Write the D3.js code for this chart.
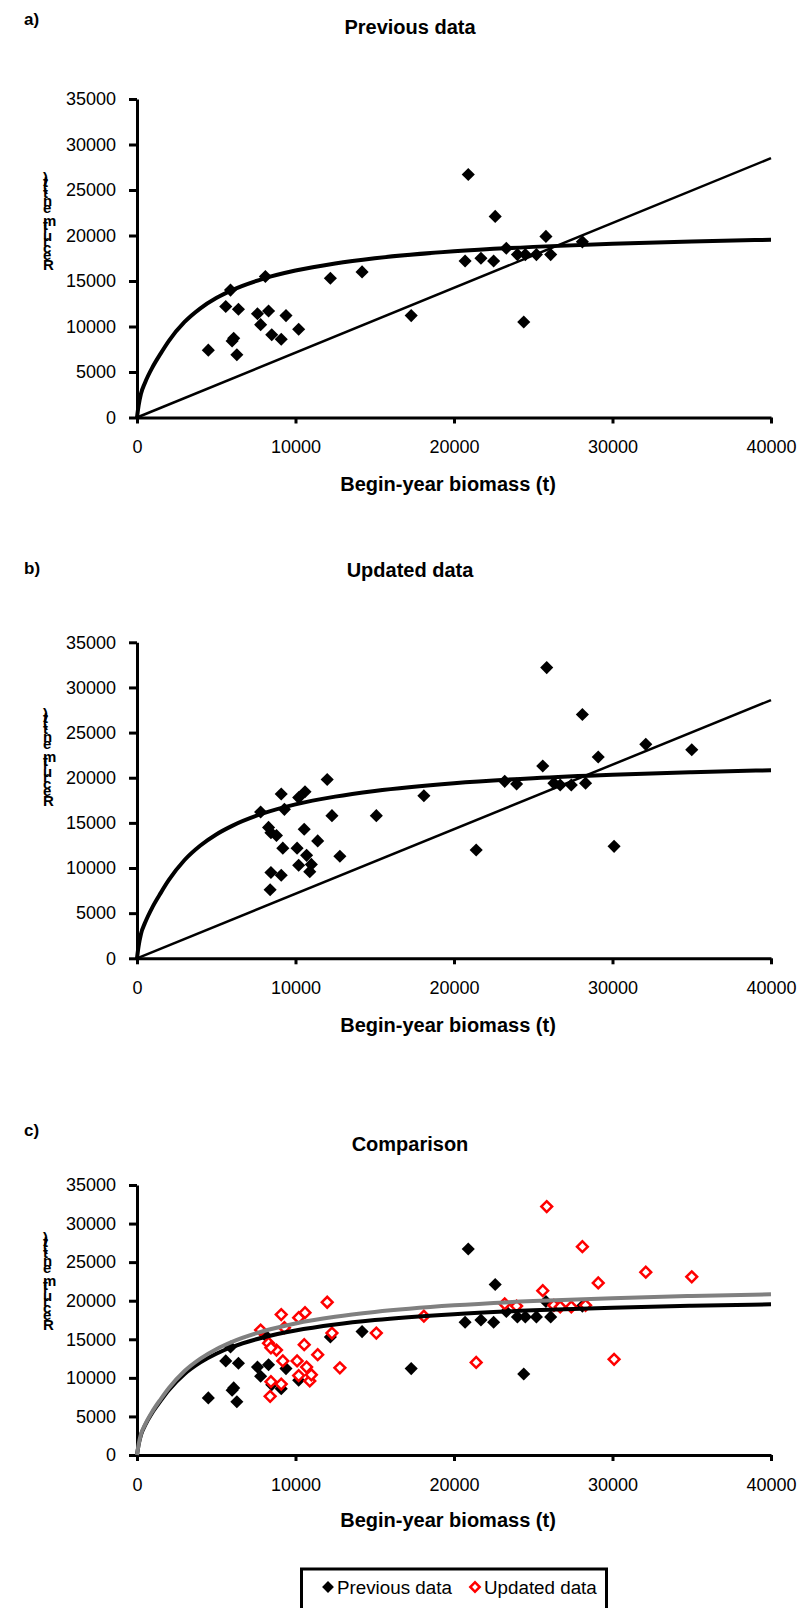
<!DOCTYPE html>
<html>
<head>
<meta charset="utf-8">
<script src="https://cdn.jsdelivr.net/npm/d3@7"></script>
<style>
  html, body { margin: 0; padding: 0; background: #fff; }
  svg { display: block; }
  text { font-family: "Liberation Sans", Arial, sans-serif; }
</style>
</head>
<body>
<script>
// ---------------- DATA ----------------
// Previous data (begin-year biomass t, recruitment t)
const prevBiomass = [4500, 5600, 6400, 5900, 6100, 6300, 6000, 7600, 8300, 7800, 8100, 8500, 9100, 9400, 10200, 12200, 14200, 17300,
                     20900, 22600, 20700, 21700, 22500, 23300, 24000, 24500, 25200, 26100, 25800, 24400, 28100];
const prevRecruit = [7400, 12200, 11900, 14000, 8700, 6900, 8400, 11400, 11700, 10200, 15500, 9100, 8600, 11200, 9700, 15300, 16000, 11200,
                     26700, 22100, 17200, 17500, 17200, 18600, 17900, 17900, 17900, 17900, 19900, 10500, 19300];

// Updated data
const updBiomass = [12000, 9100, 10600, 10200, 9300, 7800, 12300, 15100, 18100, 8300, 8800, 8450, 10550, 11400, 9200, 10100, 10700, 12800,
                    10200, 10900, 11000, 8450, 9100, 8400,
                    25850, 28100, 32100, 35000, 29100, 25600, 23200, 23950, 26300, 26700, 27400, 28300, 21400, 30100];
const updRecruit = [19800, 18200, 18450, 17800, 16500, 16200, 15800, 15800, 18000, 14500, 13600, 13900, 14300, 13000, 12200, 12200, 11400, 11300,
                    10300, 9600, 10400, 9500, 9200, 7600,
                    32200, 27000, 23700, 23100, 22300, 21300, 19600, 19300, 19400, 19200, 19200, 19400, 12000, 12400];

// Fitted stock-recruitment curves
const curveBiomass = [0, 100, 250, 500, 1000, 1500, 2000, 3000, 4000, 5000, 6000, 8000, 10000, 12500, 15000, 20000, 25000, 30000, 35000, 40000];
const curvePrev    = [0, 1300, 2600, 3800, 5600, 7050, 8400, 10500, 12000, 13125, 14000, 15270, 16150, 16930, 17500, 18260, 18750, 19090, 19340, 19530];
const curveUpd     = [0, 1350, 2700, 3900, 5750, 7250, 8650, 10890, 12500, 13720, 14670, 16070, 17050, 17910, 18540, 19400, 19950, 20330, 20610, 20830];

// Straight replacement lines (through origin), end points
const lineBiomass = [0, 40000];
const linePrev    = [0, 28500];
const lineUpd     = [0, 28600];

// Axis ticks
const xTicks = [0, 10000, 20000, 30000, 40000];
const yTicks = [0, 5000, 10000, 15000, 20000, 25000, 30000, 35000];

const panelLabels = ["a)", "b)", "c)"];
const panelTitles = ["Previous data", "Updated data", "Comparison"];
const xTitle = "Begin-year biomass (t)";
const yTitle = "Recruitment (t)";
const legendLabels = ["Previous data", "Updated data"];

// ---------------- DRAW ----------------
const W = 803, H = 1608;
const svg = d3.select("body").append("svg").attr("width", W).attr("height", H);

const xRange = [137, 771];
const panels = [
  { top: 99,    bottom: 417.5, labelY: 25,   titleY: 34,   xTitleY: 491,  yLabBottom: 270 },
  { top: 642.3, bottom: 958.3, labelY: 574,  titleY: 577,  xTitleY: 1032, yLabBottom: 806 },
  { top: 1185,  bottom: 1455,  labelY: 1136, titleY: 1151, xTitleY: 1527, yLabBottom: 1330 }
];

const toPts = (xs, ys) => xs.map((d, i) => [d, ys[i]]);
const diamond = d3.symbol().type(d3.symbolSquare);

function drawPanel(idx, opts) {
  const p = panels[idx];
  const g = svg.append("g");
  const x = d3.scaleLinear().domain([0, 40000]).range(xRange);
  const y = d3.scaleLinear().domain([0, 35000]).range([p.bottom, p.top]);

  // labels
  g.append("text").attr("x", 24).attr("y", p.labelY)
    .attr("font-size", 17).attr("font-weight", "bold").text(panelLabels[idx]);
  g.append("text").attr("x", 410).attr("y", p.titleY).attr("text-anchor", "middle")
    .attr("font-size", 20).attr("font-weight", "bold").text(panelTitles[idx]);
  g.append("text").attr("x", 448).attr("y", p.xTitleY).attr("text-anchor", "middle")
    .attr("font-size", 20).attr("font-weight", "bold").text(xTitle);

  // y title: text running upward with each glyph kept upright (stacked look)
  g.append("text")
    .attr("transform", `translate(43,${p.yLabBottom}) rotate(-90)`)
    .attr("rotate", 90)
    .attr("font-size", 15).attr("font-weight", "bold")
    .attr("textLength", 92).attr("lengthAdjust", "spacing")
    .text(yTitle);

  // axes
  const yAxis = d3.axisLeft(y).tickValues(yTicks).tickSize(8).tickSizeOuter(0).tickPadding(13).tickFormat(d3.format("d"));
  const xAxis = d3.axisBottom(x).tickValues(xTicks).tickSize(6).tickSizeOuter(0).tickPadding(17).tickFormat(d3.format("d"));

  const ya = g.append("g").attr("transform", `translate(${xRange[0]},0)`).call(yAxis);
  const xa = g.append("g").attr("transform", `translate(0,${p.bottom})`).call(xAxis);
  [ya, xa].forEach(a => {
    a.select(".domain").attr("stroke", "#000").attr("stroke-width", 3);
    a.selectAll(".tick line").attr("stroke", "#000").attr("stroke-width", 3);
    a.selectAll(".tick text").attr("font-size", 18).attr("fill", "#000")
      .attr("font-family", "'Liberation Sans', Arial, sans-serif");
  });

  const line = d3.line().x(d => x(d[0])).y(d => y(d[1]));
  const curve = d3.line().x(d => x(d[0])).y(d => y(d[1])).curve(d3.curveMonotoneX);

  // points
  if (opts.prev) {
    g.append("g").selectAll("path").data(toPts(prevBiomass, prevRecruit)).join("path")
      .attr("d", diamond.size(86)())
      .attr("transform", d => `translate(${x(d[0])},${y(d[1])}) rotate(45)`)
      .attr("fill", "#000");
  }
  if (opts.updFilled) {
    g.append("g").selectAll("path").data(toPts(updBiomass, updRecruit)).join("path")
      .attr("d", diamond.size(86)())
      .attr("transform", d => `translate(${x(d[0])},${y(d[1])}) rotate(45)`)
      .attr("fill", "#000");
  }
  if (opts.updHollow) {
    g.append("g").selectAll("path").data(toPts(updBiomass, updRecruit)).join("path")
      .attr("d", diamond.size(58)())
      .attr("transform", d => `translate(${x(d[0])},${y(d[1])}) rotate(45)`)
      .attr("fill", "#fff").attr("stroke", "#ff0000").attr("stroke-width", 2.5);
  }

  // lines
  if (opts.lineVals) {
    g.append("path").datum(toPts(lineBiomass, opts.lineVals)).attr("d", line)
      .attr("fill", "none").attr("stroke", "#000").attr("stroke-width", 2.5);
  }
  (opts.curves || []).forEach(c => {
    g.append("path").datum(toPts(curveBiomass, c.vals)).attr("d", curve)
      .attr("fill", "none").attr("stroke", c.color).attr("stroke-width", 4)
      .attr("stroke-linejoin", "round");
  });
}

drawPanel(0, { prev: true, lineVals: linePrev, curves: [{ vals: curvePrev, color: "#000" }] });
drawPanel(1, { updFilled: true, lineVals: lineUpd, curves: [{ vals: curveUpd, color: "#000" }] });
drawPanel(2, { prev: true, updHollow: true, curves: [{ vals: curvePrev, color: "#000" }, { vals: curveUpd, color: "#808080" }] });

// legend
const lg = svg.append("g");
lg.append("rect").attr("x", 301.5).attr("y", 1569).attr("width", 305).attr("height", 60)
  .attr("fill", "#fff").attr("stroke", "#000").attr("stroke-width", 3);
lg.append("path").attr("d", diamond.size(70)()).attr("transform", "translate(328,1587) rotate(45)").attr("fill", "#000");
lg.append("text").attr("x", 337).attr("y", 1593.5).attr("font-size", 18.8).text(legendLabels[0]);
lg.append("path").attr("d", diamond.size(44)()).attr("transform", "translate(475,1587) rotate(45)")
  .attr("fill", "#fff").attr("stroke", "#ff0000").attr("stroke-width", 2.5);
lg.append("text").attr("x", 484).attr("y", 1593.5).attr("font-size", 18.8).text(legendLabels[1]);
</script>
</body>
</html>
